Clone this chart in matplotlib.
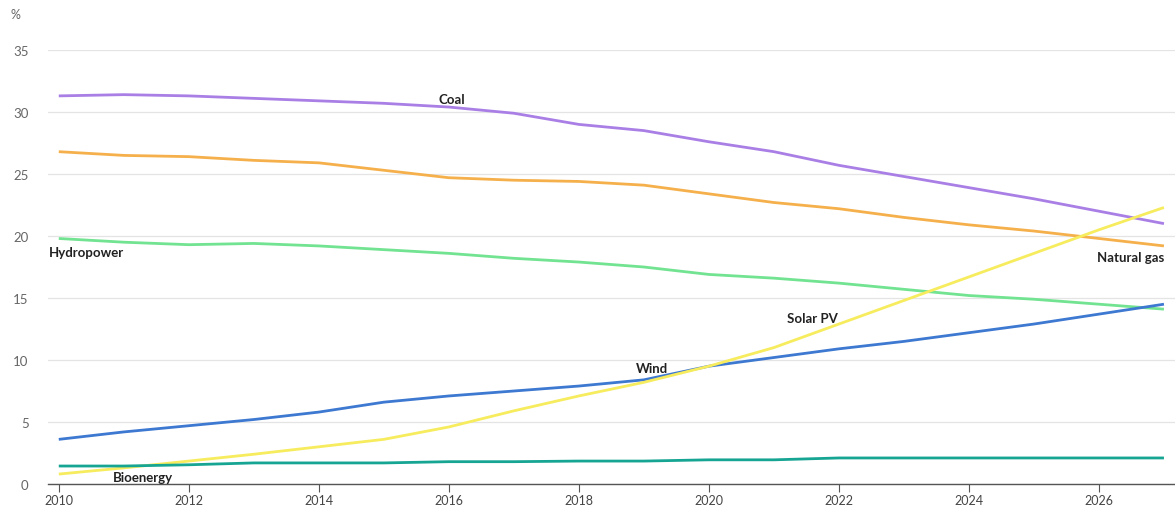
import matplotlib
matplotlib.use("Agg")
import matplotlib.pyplot as plt

plt.rcParams['font.family'] = ['Lato', 'DejaVu Sans']

years = list(range(2010, 2028))
coal = [31.3, 31.4, 31.3, 31.1, 30.9, 30.7, 30.4, 29.9, 29.0, 28.5, 27.6, 26.8, 25.7, 24.8, 23.9, 23.0, 22.0, 21.0]
natural_gas = [26.8, 26.5, 26.4, 26.1, 25.9, 25.3, 24.7, 24.5, 24.4, 24.1, 23.4, 22.7, 22.2, 21.5, 20.9, 20.4, 19.8, 19.2]
hydropower = [19.8, 19.5, 19.3, 19.4, 19.2, 18.9, 18.6, 18.2, 17.9, 17.5, 16.9, 16.6, 16.2, 15.7, 15.2, 14.9, 14.5, 14.1]
wind = [3.6, 4.2, 4.7, 5.2, 5.8, 6.6, 7.1, 7.5, 7.9, 8.4, 9.5, 10.2, 10.9, 11.5, 12.2, 12.9, 13.7, 14.5]
solar_pv = [0.8, 1.3, 1.85, 2.4, 3.0, 3.6, 4.6, 5.9, 7.1, 8.2, 9.5, 11.0, 12.9, 14.8, 16.7, 18.6, 20.5, 22.3]
bioenergy = [1.45, 1.45, 1.55, 1.7, 1.7, 1.7, 1.8, 1.8, 1.85, 1.85, 1.95, 1.95, 2.1, 2.1, 2.1, 2.1, 2.1, 2.1]

series = [
    ("Coal", coal, "#a97fe6"),
    ("Natural gas", natural_gas, "#f5b04c"),
    ("Hydropower", hydropower, "#72e391"),
    ("Wind", wind, "#3d78d1"),
    ("Solar PV", solar_pv, "#f6ec5e"),
    ("Bioenergy", bioenergy, "#17a593"),
]
labels = {
    "Coal": (2016.05, 31.05),
    "Natural gas": (2026.48, 18.3),
    "Hydropower": (2010.42, 18.7),
    "Solar PV": (2021.6, 13.4),
    "Wind": (2019.13, 9.35),
    "Bioenergy": (2011.3, 0.56),
}
y_ticks = [0, 5, 10, 15, 20, 25, 30, 35]
x_ticks = list(range(2010, 2027, 2))

fig = plt.figure(figsize=(11.75, 5.06), dpi=100)
ax = fig.add_axes([0.0409, 0.0415, 0.9591, 0.8577])

for name, vals, col in series:
    ax.plot(years, vals, color=col, lw=2.0, solid_capstyle='butt', zorder=3)
for name, (lx, ly) in labels.items():
    ax.text(lx, ly, name, ha='center', va='center', fontsize=9.5,
            fontweight='bold', color='#222222', zorder=4)

ax.set_xlim(2009.835, 2027.17)
ax.set_ylim(0, 35)
ax.set_yticks(y_ticks)
ax.set_xticks(x_ticks)
ax.grid(axis='y', color='#e4e4e4', lw=0.9)
ax.set_axisbelow(True)
for s in ['top', 'right', 'left']:
    ax.spines[s].set_visible(False)
ax.spines['bottom'].set_color('#555555')
ax.spines['bottom'].set_linewidth(1.0)
ax.tick_params(axis='y', length=0, labelsize=9.5, labelcolor='#666666', pad=14)
ax.tick_params(axis='x', length=6, color='#555555', labelsize=9, labelcolor='#444444', pad=1.5)

fig.text(15 / 1175, 1 - 15 / 506, "%", fontsize=9, color='#666666', ha='center', va='center')

fig.savefig("out.png", dpi=100, facecolor='white')
